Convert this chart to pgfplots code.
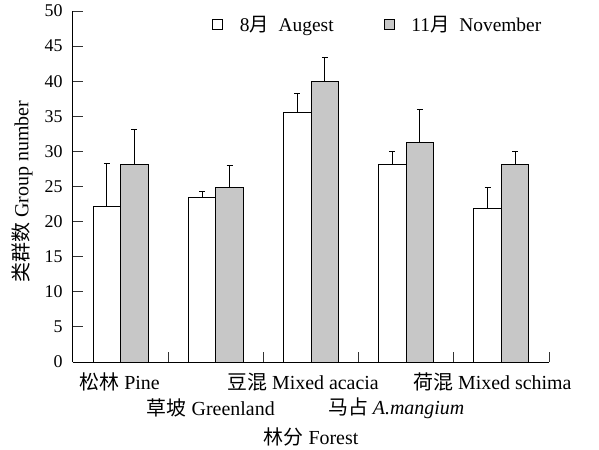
\documentclass[border=0pt]{standalone}
\usepackage{fontspec}
\setmainfont{Liberation Serif}
\newfontfamily\cjk{Noto Sans CJK SC}
\usepackage{pgfplots}
\usepackage{pgfplotstable}
\pgfplotsset{compat=1.18}

% group means and upper errors, August and November
\pgfplotstableread{
x aug augerr nov noverr
1 22.2 6.1 28.1 5.0
2 23.4 0.9 24.8 3.2
3 35.5 2.7 40.0 3.4
4 28.1 1.9 31.3 4.6
5 21.9 3.0 28.1 1.9
}\forestdata

\begin{document}
\begin{tikzpicture}
\begin{axis}[
    scale only axis,
    width=476bp, height=351bp,
    ybar, bar width=27.5bp,
    xmin=0.5, xmax=5.5, ymin=0, ymax=50,
    axis x line=bottom, axis y line=left,
    axis line style={-, line width=1bp},
    ytick={0,5,...,50},
    xtick={0.5,1.5,...,5.5}, xticklabels={},
    tick align=inside, major tick length=10bp,
    tick style={line width=1bp, black!80},
    /pgf/number format/assume math mode=true,
    yticklabel style={font=\fontsize{18}{20}\selectfont, xshift=-7bp},
    ylabel={{\cjk 类群数} Group number},
    ylabel style={at={(axis description cs:-0.107,0.485)}, anchor=center, font=\fontsize{20}{22}\selectfont},
    xlabel={{\cjk 林分} Forest},
    xlabel style={at={(axis description cs:0.5,0)}, yshift=-75bp, anchor=center, font=\fontsize{20}{22}\selectfont},
    clip=false,
    legend style={draw=none, fill=none, at={(axis cs:3.7,48.1)}, anchor=center,
        font=\fontsize{19.5}{21}\selectfont,
        /tikz/every odd column/.append style={column sep=15bp},
        /tikz/every even column/.append style={column sep=48bp}},
    legend columns=2,
]
\addlegendimage{legend image code/.code={\draw[fill=white, draw=black, line width=0.8bp] (0bp,-5bp) rectangle (10bp,5bp);}}
\addlegendentry{8{\cjk 月}\ \ Augest}
\addlegendimage{legend image code/.code={\draw[fill=black!22, draw=black, line width=0.8bp] (0bp,-5bp) rectangle (10bp,5bp);}}
\addlegendentry{11{\cjk 月}\ \ November}

\addplot[forget plot, bar shift=-13.75bp,
    fill=white, draw=black, line width=1bp,
    error bars/.cd, y dir=plus, y explicit,
    error bar style={line width=1bp, black},
    error mark options={rotate=90, mark size=3bp, line width=1bp, black}]
    table[x=x, y=aug, y error=augerr] {\forestdata};
\addplot[forget plot, bar shift=13.75bp,
    fill=black!22, draw=black, line width=1bp,
    error bars/.cd, y dir=plus, y explicit,
    error bar style={line width=1bp, black},
    error mark options={rotate=90, mark size=3bp, line width=1bp, black}]
    table[x=x, y=nov, y error=noverr] {\forestdata};

\coordinate (O) at (axis cs:0.5,0);
\begin{scope}[every node/.style={font=\fontsize{20}{22}\selectfont, anchor=center}]
\node[yshift=-20bp, xshift=-1bp] at (axis cs:1,0) {{\cjk 松林} Pine};
\node[yshift=-46bp, xshift=-5bp] at (axis cs:2,0) {{\cjk 草坡} Greenland};
\node[yshift=-20bp, xshift=-8bp] at (axis cs:3,0) {{\cjk 豆混} Mixed acacia};
\node[yshift=-46bp, xshift=-10bp] at (axis cs:4,0) {{\cjk 马占} \textit{A.mangium}};
\node[yshift=-20bp, xshift=-9bp] at (axis cs:5,0) {{\cjk 荷混} Mixed schima};
\end{scope}
\end{axis}
\path (O) ++(-73bp,-85bp) rectangle ++(599bp,447bp);
\end{tikzpicture}
\end{document}
